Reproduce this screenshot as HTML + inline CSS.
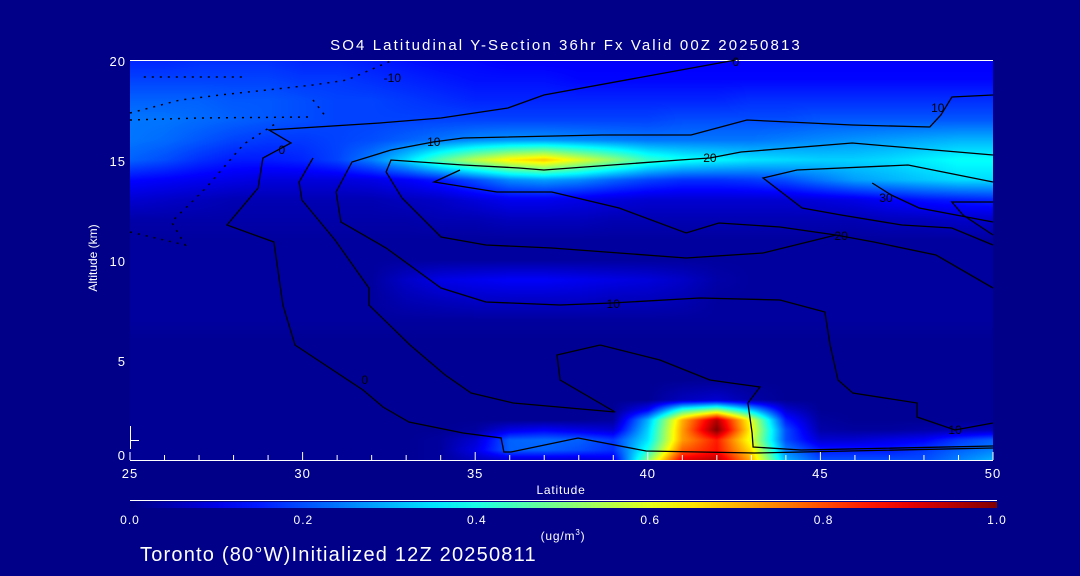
<!DOCTYPE html>
<html><head><meta charset="utf-8">
<style>
html,body{margin:0;padding:0;background:#000088;}
#wrap{position:relative;width:1080px;height:576px;background:#000088;overflow:hidden;font-family:"Liberation Sans",sans-serif;}
canvas{position:absolute;left:130px;top:60px;}
svg{position:absolute;left:0;top:0;}
text{fill:#fff;font-family:"Liberation Sans",sans-serif;}
</style></head><body>
<div id="wrap">
<canvas id="field" width="863" height="400"></canvas>
<svg id="svg" width="1080" height="576">
<defs><linearGradient id="cbg" x1="0" x2="1" y1="0" y2="0"></linearGradient></defs>
<text x="566" y="50" font-size="15" letter-spacing="2.1" text-anchor="middle">SO4 Latitudinal Y-Section 36hr  Fx Valid 00Z 20250813</text>
<text x="0" y="0" font-size="12" text-anchor="middle" transform="translate(97,258) rotate(-90)">Altitude (km)</text>
<text x="561" y="494" font-size="12" letter-spacing="0.8" text-anchor="middle">Latitude</text>
<text x="563" y="540" font-size="12" letter-spacing="0.8" text-anchor="middle">(ug/m<tspan font-size="8" dy="-5">3</tspan><tspan dy="5">)</tspan></text>
<text x="140" y="561" font-size="20" letter-spacing="1.2">Toronto (80°W)Initialized 12Z 20250811</text>
<line x1="130" y1="60.5" x2="993" y2="60.5" stroke="#fff"/>
<line x1="130" y1="460.5" x2="993" y2="460.5" stroke="#fff"/>
<line x1="130.5" y1="426" x2="130.5" y2="449" stroke="#fff"/>
<line x1="130" y1="440.5" x2="139" y2="440.5" stroke="#fff"/>
<line x1="130" y1="500.5" x2="997" y2="500.5" stroke="#fff"/>
<rect x="130" y="502" width="867" height="6" fill="url(#cbg)"/>
<g id="g-contours"></g>
<g id="g-axes"></g>
</svg>
</div>
<script>
const lats=[25,26,27,28,29,30,31,32,33,34,35,36,37,38,39,40,41,42,43,44,45,46,47,48,49,50];
const alts=[0,0.5,1,1.5,2,2.5,3,4,5,6,7,8,9,10,11,12,13,14,15,16,17,18,19,20];
const so4=[
/*0*/  [.02,.02,.02,.02,.02,.02,.02,.02,.02,.03,.06,.08,.08,.08,.1,.5,.9,.95,.7,.3,.2,.2,.2,.2,.25,.3],
/*0.5*/[.02,.02,.02,.02,.02,.02,.02,.02,.02,.03,.1,.22,.22,.2,.17,.4,.78,.86,.65,.25,.15,.15,.15,.18,.22,.25],
/*1*/  [.02,.02,.02,.02,.02,.02,.02,.02,.02,.03,.08,.22,.23,.22,.18,.35,.72,.85,.6,.2,.08,.08,.1,.12,.18,.22],
/*1.5*/[.02,.02,.02,.02,.02,.02,.02,.02,.02,.02,.03,.1,.12,.1,.08,.33,.72,1.0,.62,.2,.04,.03,.03,.04,.05,.06],
/*2*/  [.02,.02,.02,.02,.02,.02,.02,.02,.02,.02,.02,.02,.02,.02,.03,.3,.7,.95,.6,.15,.03,.02,.02,.02,.02,.02],
/*2.5*/[.02,.02,.02,.02,.02,.02,.02,.02,.02,.02,.02,.02,.02,.02,.02,.12,.42,.52,.32,.08,.02,.02,.02,.02,.02,.02],
/*3*/  [.02,.02,.02,.02,.02,.02,.02,.02,.02,.02,.02,.02,.02,.02,.02,.02,.06,.08,.04,.02,.02,.02,.02,.02,.02,.02],
/*4*/  [.02,.02,.02,.02,.02,.02,.02,.02,.02,.02,.02,.02,.02,.02,.02,.02,.02,.02,.02,.02,.02,.02,.02,.02,.02,.02],
/*5*/  [.02,.02,.02,.02,.02,.02,.02,.02,.02,.02,.02,.02,.02,.02,.02,.02,.02,.02,.02,.02,.02,.02,.02,.02,.02,.02],
/*6*/  [.02,.02,.02,.02,.02,.02,.02,.02,.02,.02,.02,.02,.02,.02,.02,.02,.02,.02,.02,.02,.02,.02,.02,.02,.02,.02],
/*7*/  [.03,.03,.03,.03,.03,.03,.03,.03,.03,.03,.03,.03,.03,.03,.03,.03,.03,.03,.03,.03,.03,.03,.03,.03,.03,.03],
/*8*/  [.03,.03,.03,.03,.03,.03,.03,.03,.05,.06,.07,.07,.07,.07,.06,.06,.05,.03,.03,.03,.03,.03,.03,.03,.03,.03],
/*9*/  [.03,.03,.03,.03,.03,.03,.03,.03,.07,.1,.11,.12,.12,.11,.1,.09,.07,.04,.03,.03,.03,.03,.03,.03,.03,.03],
/*10*/ [.03,.03,.03,.03,.03,.03,.03,.03,.03,.03,.03,.03,.03,.03,.03,.03,.03,.03,.03,.03,.03,.03,.03,.03,.03,.03],
/*11*/ [.03,.03,.03,.03,.03,.03,.03,.03,.03,.03,.03,.03,.03,.03,.03,.03,.03,.03,.03,.03,.03,.03,.03,.03,.03,.03],
/*12*/ [.04,.04,.04,.04,.04,.04,.04,.04,.04,.05,.05,.06,.06,.06,.05,.05,.05,.05,.05,.05,.05,.05,.06,.06,.07,.07],
/*13*/ [.08,.07,.06,.05,.05,.05,.05,.05,.06,.07,.09,.11,.11,.1,.09,.08,.08,.08,.08,.08,.09,.1,.12,.14,.15,.16],
/*14*/ [.13,.12,.11,.1,.09,.09,.09,.1,.12,.15,.2,.26,.28,.26,.22,.19,.17,.17,.18,.2,.24,.28,.3,.32,.34,.34],
/*15*/ [.22,.2,.17,.15,.15,.16,.19,.25,.34,.46,.56,.64,.68,.6,.52,.43,.39,.37,.35,.34,.33,.33,.34,.36,.38,.38],
/*16*/ [.24,.23,.21,.19,.18,.18,.19,.2,.22,.24,.26,.27,.27,.26,.25,.24,.24,.24,.24,.25,.26,.27,.28,.29,.3,.3],
/*17*/ [.24,.24,.23,.22,.21,.2,.19,.19,.19,.19,.19,.19,.19,.19,.19,.19,.2,.2,.2,.2,.21,.21,.21,.21,.21,.21],
/*18*/ [.22,.22,.22,.21,.21,.2,.19,.19,.18,.17,.16,.16,.16,.16,.16,.16,.16,.16,.17,.17,.17,.17,.17,.17,.17,.17],
/*19*/ [.19,.19,.19,.19,.19,.18,.18,.17,.16,.15,.14,.14,.14,.13,.13,.13,.13,.13,.13,.13,.13,.13,.13,.13,.13,.13],
/*20*/ [.16,.16,.17,.17,.17,.16,.16,.15,.14,.13,.13,.12,.12,.12,.12,.12,.12,.12,.12,.12,.12,.12,.12,.12,.12,.12]
];
const xTicks=[25,30,35,40,45,50];
const yTicks=[0,5,10,15,20];
const cbTicks=[0.0,0.2,0.4,0.6,0.8,1.0];
const cbLabels=["0.0","0.2","0.4","0.6","0.8","1.0"];
const contourSolid=[
 [[42.55,20],[36.99,18.25],[35.95,17.6],[34.01,17.1],[32.24,16.85],[29.03,16.5],[29.66,15.85],[28.85,15.1],[28.71,13.6],[27.81,11.75],[29.17,10.9],[29.43,7.75],[29.78,5.75],[31.75,3.5],[32.33,2.65],[33.08,1.9],[34.65,1.35],[35.75,1.1],[35.83,0.4],[36.04,0.4],[37.98,1.1],[39.95,0.45],[43.1,0.35],[50,0.6]],
 [[50,18.25],[48.81,18.15],[48.49,17.25],[48.17,16.65],[45.92,16.75],[42.87,17.0],[41.25,16.25],[38.67,16.25],[34.65,16.1],[33.78,15.9],[32.56,15.5],[31.43,14.9],[30.97,13.4],[31.11,11.9],[32.42,10.6],[34.01,8.6],[35.31,7.9],[37.46,7.75],[38.96,7.85],[41.51,8.1],[43.83,8.0],[45.13,7.4],[45.28,5.75],[45.51,4.0],[45.94,3.35],[47.8,2.85],[47.8,2.15],[48.9,1.5],[50,1.85]],
 [[30.3,15.1],[29.9,13.9],[29.98,13.0],[30.94,11.0],[31.92,8.6],[31.92,7.75],[33.11,5.75],[34.13,4.25],[34.88,3.35],[36.1,2.85],[39.05,2.4],[37.46,4.0],[37.37,5.25],[38.62,5.75],[40.35,5.0],[41.8,4.0],[42.41,3.85],[43.25,3.65],[42.9,2.85],[43.02,1.35],[43.05,0.65],[44.44,0.5],[50,0.7]],
 [[50,15.25],[45.92,15.85],[42.7,15.4],[41.8,15.1],[40.93,15.0],[36.99,14.5],[36.27,14.6],[34.65,14.75],[32.56,15.0],[32.42,14.4],[32.88,13.1],[34.01,11.15],[35.31,10.75],[37.22,10.6],[41.11,10.1],[43.34,10.35],[45.45,11.25],[46.55,10.9],[48.35,10.25],[50,8.6]],
 [[50,13.9],[47.54,14.75],[44.32,14.5],[43.34,14.1],[44.47,12.6],[45.6,12.25],[47.36,11.75],[48.81,11.6],[50,10.75]],
 [[34.56,14.5],[33.81,13.9],[35.63,13.4],[37.22,13.4],[39.17,12.6],[41.11,11.35],[42.06,11.85],[43.83,11.65],[45.45,11.25]],
 [[46.5,13.85],[47.05,13.25],[47.86,12.6],[50,11.9]],
 [[50,12.9],[48.81,12.9],[49.13,12.25],[50,11.25]]
];
const contourDotted=[
 [[25,17.35],[26.45,18],[27.6,18.25],[28.97,18.5],[30.3,18.75],[31.29,19],[32.62,20]],
 [[25,17.0],[27,17.1],[30.2,17.15]],
 [[25.4,19.15],[28.4,19.15]],
 [[30.3,18.0],[30.7,17.1]],
 [[25,11.4],[26.6,10.75],[26.2,11.9],[27.2,13.6],[28.3,15.8],[29.2,16.8]]
];
const contourLabels=[["0",42.55,19.9],["-10",32.6,19.1],["0",29.4,15.5],["10",33.8,15.9],["20",41.8,15.1],["30",46.9,13.1],["20",45.6,11.2],["10",39.0,7.8],["0",31.8,4.0],["10",48.9,1.5],["10",48.4,17.6]];

const X0=130,X1=993,Y0=460,Y1=60;
function xs(lat){return X0+(lat-25)/(50-25)*(X1-X0);}
function ys(a){return Y0-(a/20)*(Y0-Y1);}
const stops=[[0,[0,0,128]],[0.125,[0,0,255]],[0.375,[0,255,255]],[0.625,[255,255,0]],[0.875,[255,0,0]],[1,[128,0,0]]];
function cmap(v){v=Math.max(0,Math.min(1,v));for(let i=1;i<stops.length;i++){if(v<=stops[i][0]){const a=stops[i-1],b=stops[i];const t=(v-a[0])/(b[0]-a[0]);return a[1].map((c,k)=>Math.round(c+(b[1][k]-c)*t));}}return stops[stops.length-1][1];}
function idx(arr,v){for(let i=0;i<arr.length-1;i++){if(v<=arr[i+1])return i;}return arr.length-2;}
const cv=document.getElementById('field'),ctx=cv.getContext('2d');
const W=cv.width,H=cv.height,img=ctx.createImageData(W,H);
for(let py=0;py<H;py++){const a=(H-py-0.5)/H*20;const j=idx(alts,a);const ty=(a-alts[j])/(alts[j+1]-alts[j]);
 for(let px=0;px<W;px++){const lat=25+(px+0.5)/W*25;const i=idx(lats,lat);const tx=(lat-lats[i])/(lats[i+1]-lats[i]);
  const v=(so4[j][i]*(1-tx)+so4[j][i+1]*tx)*(1-ty)+(so4[j+1][i]*(1-tx)+so4[j+1][i+1]*tx)*ty;
  const c=cmap(v);const o=(py*W+px)*4;img.data[o]=c[0];img.data[o+1]=c[1];img.data[o+2]=c[2];img.data[o+3]=255;}}
ctx.putImageData(img,0,0);
const NS='http://www.w3.org/2000/svg';
function mk(tag,attrs,parent){const e=document.createElementNS(NS,tag);for(const k in attrs)e.setAttribute(k,attrs[k]);parent.appendChild(e);return e;}
const grad=document.getElementById('cbg');
for(let k=0;k<=20;k++){const c=cmap(k/20);mk('stop',{offset:(k/20),'stop-color':'rgb('+c.join(',')+')'},grad);}
const gc=document.getElementById('g-contours');
contourSolid.forEach((c,n)=>{const p=mk('polyline',{points:c.map(q=>xs(q[0]).toFixed(1)+','+ys(q[1]).toFixed(1)).join(' '),fill:'none',stroke:'#000','stroke-width':1.3},gc);
 
 });
contourDotted.forEach((c,n)=>{const p=mk('polyline',{points:c.map(q=>xs(q[0]).toFixed(1)+','+ys(q[1]).toFixed(1)).join(' '),fill:'none',stroke:'#000','stroke-width':1.5,'stroke-dasharray':'2 6'},gc);
 
 });
contourLabels.forEach((l,n)=>{const t=mk('text',{x:xs(l[1]),y:ys(l[2])+4,'font-size':12,'text-anchor':'middle',style:'fill:#000'},gc);t.textContent=l[0];
 
 });
const ga=document.getElementById('g-axes');
for(let lat=25;lat<=50;lat++){const major=xTicks.includes(lat);const t=mk('line',{x1:xs(lat),x2:xs(lat),y1:460,y2:major?452:455,stroke:'#fff'},ga);
 
 }
xTicks.forEach(v=>{const t=mk('text',{x:xs(v),y:478,'font-size':13,'letter-spacing':1,'text-anchor':'middle'},ga);t.textContent=String(v);
 
 });
yTicks.forEach(v=>{const t=mk('text',{x:126,y:ys(v)+(v===0?0:6),'font-size':13,'letter-spacing':1,'text-anchor':'end'},ga);t.textContent=String(v);
 
 });
cbTicks.forEach((v,k)=>{const t=mk('text',{x:130+v*867,y:524,'font-size':12,'letter-spacing':1,'text-anchor':'middle'},ga);t.textContent=cbLabels[k];
 
 });
</script>
</body></html>
